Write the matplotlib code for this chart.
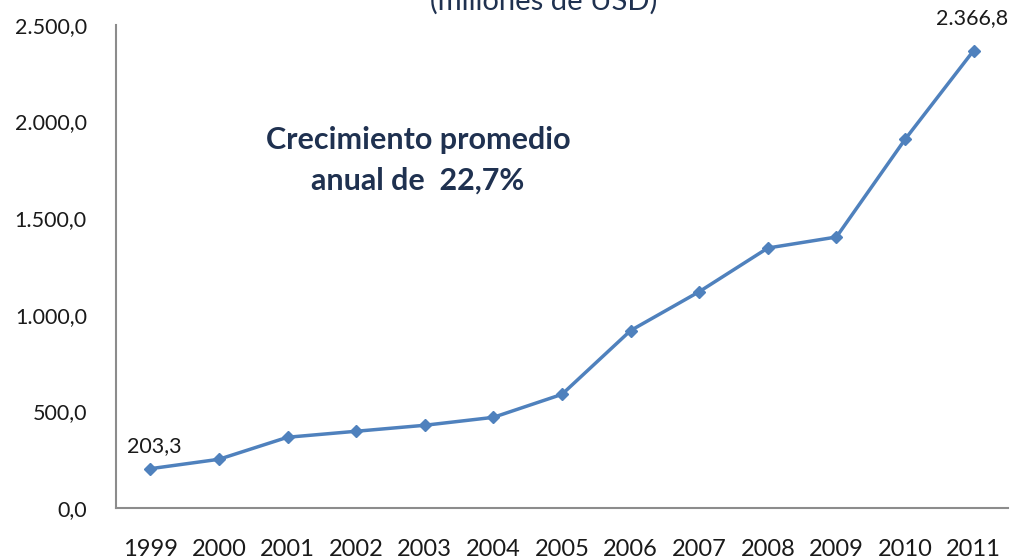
import matplotlib.pyplot as plt

# data
years = ['1999', '2000', '2001', '2002', '2003', '2004', '2005',
         '2006', '2007', '2008', '2009', '2010', '2011']
values = [203.3, 252, 366, 397, 428, 469, 588,
          918, 1119, 1345, 1402, 1907, 2366.8]
yticks = [0, 500, 1000, 1500, 2000, 2500]
ytick_labels = ['0,0', '500,0', '1.000,0', '1.500,0', '2.000,0', '2.500,0']

plt.rcParams['font.family'] = ['Lato', 'DejaVu Sans']

fig = plt.figure(figsize=(10.12, 5.58), dpi=100)
ax = fig.add_axes([0.1146, 0.0896, 0.8814, 0.866])

x = list(range(len(years)))
ax.plot(x, values, color='#4F81BD', linewidth=2.5, marker='D', markersize=6)

ax.set_xlim(-0.5, len(years) - 0.5)
ax.set_ylim(0, 2500)
ax.set_xticks(x)
ax.set_xticklabels(years, fontsize=17, color='#1a1a1a')
ax.set_yticks(yticks)
ax.set_yticklabels(ytick_labels, fontsize=15.5, color='#1a1a1a')
ax.tick_params(axis='both', length=0)
ax.tick_params(axis='x', pad=22)
ax.tick_params(axis='y', pad=21)

for side in ['top', 'right']:
    ax.spines[side].set_visible(False)
for side in ['left', 'bottom']:
    ax.spines[side].set_color('#8C8C8C')
    ax.spines[side].set_linewidth(1.5)

# first and last data labels
ax.annotate('203,3', (x[0], values[0]), xytext=(3, 16), textcoords='offset points',
            ha='center', va='center', fontsize=15.5, color='#1a1a1a')
ax.annotate('2.366,8', (x[-1], values[-1]), xytext=(-1, 23), textcoords='offset points',
            ha='center', va='center', fontsize=15.5, color='#1a1a1a')

ax.text(3.9, 1800, 'Crecimiento promedio\nanual de  22,7%', ha='center', va='center',
        fontsize=22, fontweight='bold', color='#1F3150', linespacing=1.55)

fig.text(0.537, 0.982, '(millones de USD)', ha='center', va='baseline',
         fontsize=21, color='#1F3150')

fig.savefig('out.png', dpi=100)
